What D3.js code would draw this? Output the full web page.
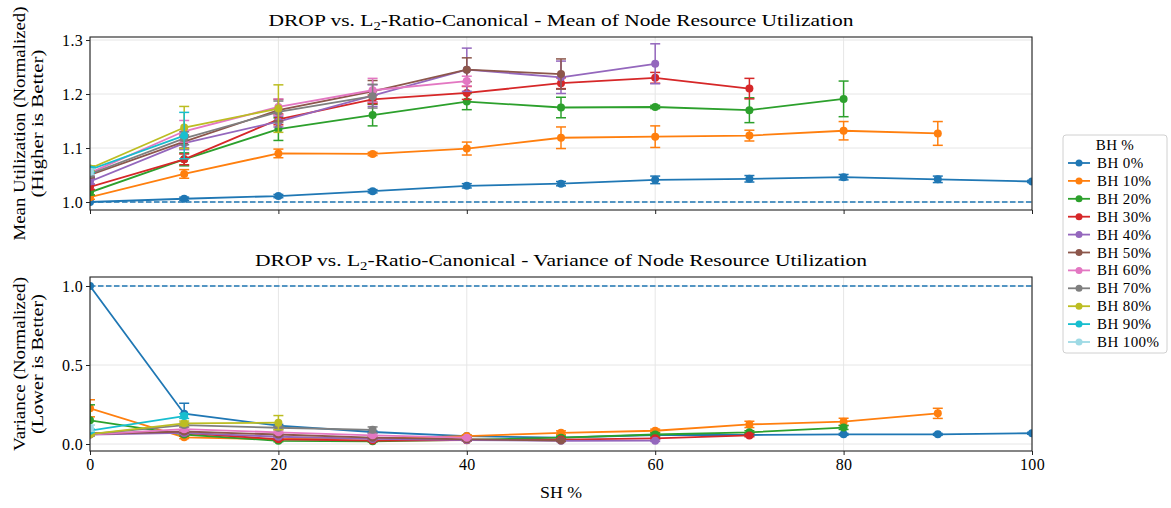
<!DOCTYPE html>
<html>
<head>
<meta charset="utf-8">
<script src="https://cdn.jsdelivr.net/npm/d3@7"></script>
<style>
  html, body { margin: 0; padding: 0; background: #fff; }
  svg { display: block; }
  text { font-family: "Liberation Serif", "DejaVu Serif", serif; fill: #000; }
</style>
</head>
<body>
<svg id="chart" width="1171" height="508"></svg>
<script>
// SH % on the x axis
const shLevels = [0, 10, 20, 30, 40, 50, 60, 70, 80, 90, 100];

// One series per BH share
const bhLabels = ["BH 0%", "BH 10%", "BH 20%", "BH 30%", "BH 40%", "BH 50%",
                  "BH 60%", "BH 70%", "BH 80%", "BH 90%", "BH 100%"];
const bhColors = ["#1f77b4", "#ff7f0e", "#2ca02c", "#d62728", "#9467bd", "#8c564b",
                  "#e377c2", "#7f7f7f", "#bcbd22", "#17becf", "#9edae5"];

// Mean of node resource utilization (normalized), one array per BH series
const meanValues = [
  [1.000, 1.006, 1.011, 1.020, 1.030, 1.034, 1.041, 1.043, 1.046, 1.042, 1.038],
  [1.009, 1.052, 1.090, 1.089, 1.099, 1.119, 1.121, 1.123, 1.132, 1.127],
  [1.018, 1.079, 1.135, 1.161, 1.186, 1.175, 1.176, 1.170, 1.191],
  [1.028, 1.079, 1.153, 1.190, 1.202, 1.220, 1.230, 1.210],
  [1.038, 1.109, 1.149, 1.197, 1.245, 1.231, 1.256],
  [1.050, 1.112, 1.170, 1.205, 1.245, 1.237],
  [1.054, 1.131, 1.176, 1.207, 1.224],
  [1.052, 1.118, 1.167, 1.196],
  [1.062, 1.138, 1.173],
  [1.060, 1.123],
  [1.056]
];
const meanErrors = [
  [0.000, 0.003, 0.003, 0.003, 0.004, 0.004, 0.007, 0.006, 0.005, 0.006, 0.002],
  [0.004, 0.008, 0.008, 0.003, 0.012, 0.020, 0.020, 0.010, 0.017, 0.022],
  [0.005, 0.012, 0.021, 0.020, 0.015, 0.019, 0.003, 0.023, 0.033],
  [0.005, 0.010, 0.010, 0.008, 0.012, 0.010, 0.010, 0.019],
  [0.005, 0.012, 0.010, 0.020, 0.040, 0.030, 0.037],
  [0.005, 0.012, 0.020, 0.020, 0.022, 0.028],
  [0.005, 0.020, 0.015, 0.022, 0.009],
  [0.005, 0.012, 0.020, 0.022],
  [0.005, 0.039, 0.044],
  [0.005, 0.043],
  [0.005]
];

// Variance of node resource utilization (normalized)
const varValues = [
  [1.000, 0.192, 0.116, 0.076, 0.050, 0.040, 0.057, 0.057, 0.061, 0.061, 0.068],
  [0.226, 0.042, 0.030, 0.036, 0.050, 0.071, 0.084, 0.124, 0.141, 0.194],
  [0.150, 0.060, 0.020, 0.017, 0.026, 0.040, 0.060, 0.074, 0.104],
  [0.068, 0.070, 0.030, 0.022, 0.024, 0.028, 0.036, 0.054],
  [0.060, 0.070, 0.046, 0.032, 0.025, 0.020, 0.021],
  [0.063, 0.079, 0.060, 0.040, 0.030, 0.022],
  [0.060, 0.094, 0.074, 0.055, 0.040],
  [0.062, 0.120, 0.103, 0.090],
  [0.062, 0.131, 0.135],
  [0.084, 0.177],
  [0.100]
];
const varErrors = [
  [0.000, 0.066, 0.008, 0.006, 0.005, 0.005, 0.005, 0.005, 0.006, 0.006, 0.006],
  [0.054, 0.008, 0.006, 0.006, 0.008, 0.012, 0.010, 0.020, 0.022, 0.032],
  [0.098, 0.010, 0.006, 0.005, 0.006, 0.010, 0.010, 0.010, 0.012],
  [0.010, 0.010, 0.006, 0.005, 0.005, 0.005, 0.006, 0.008],
  [0.008, 0.010, 0.006, 0.005, 0.005, 0.005, 0.005],
  [0.008, 0.010, 0.008, 0.006, 0.006, 0.005],
  [0.008, 0.012, 0.008, 0.008, 0.006],
  [0.008, 0.012, 0.010, 0.018],
  [0.008, 0.014, 0.045],
  [0.010, 0.015],
  [0.020]
];

const xTicks = [0, 20, 40, 60, 80, 100];
const meanTicks = [1.0, 1.1, 1.2, 1.3];
const varTicks = [0.0, 0.5, 1.0];

const svg = d3.select("#chart");
const left = 90, right = 1032;

const x = d3.scaleLinear().domain([0, 100]).range([left, right]);

// Stretch a text run to a given advance width (wide serif look)
function fitWidth(sel, width) {
  sel.attr("textLength", width).attr("lengthAdjust", "spacingAndGlyphs");
}

function drawPanel(cfg) {
  const y = d3.scaleLinear().domain(cfg.domain).range([cfg.bottom, cfg.top]);
  const g = svg.append("g");

  // grid
  g.append("g").selectAll("line.vg").data(xTicks).join("line")
    .attr("x1", d => x(d)).attr("x2", d => x(d))
    .attr("y1", cfg.top).attr("y2", cfg.bottom)
    .attr("stroke", "#e6e6e6").attr("stroke-width", 1);
  g.append("g").selectAll("line.hg").data(cfg.ticks).join("line")
    .attr("x1", left).attr("x2", right)
    .attr("y1", d => y(d)).attr("y2", d => y(d))
    .attr("stroke", "#e6e6e6").attr("stroke-width", 1);

  // baseline reference at 1.0
  g.append("line")
    .attr("x1", left).attr("x2", right)
    .attr("y1", y(1)).attr("y2", y(1))
    .attr("stroke", "#1f77b4").attr("stroke-width", 1.5)
    .attr("stroke-dasharray", "5.5,2.5");

  const clip = "clip-" + cfg.id;
  svg.append("clipPath").attr("id", clip).append("rect")
    .attr("x", left).attr("y", cfg.top).attr("width", right - left).attr("height", cfg.bottom - cfg.top);
  const plot = g.append("g").attr("clip-path", `url(#${clip})`);

  const line = d3.line().x(d => x(d.sh)).y(d => y(d.v));

  cfg.values.forEach((vals, i) => {
    const pts = vals.map((v, k) => ({ sh: shLevels[k], v, e: cfg.errors[i][k] }));
    const s = plot.append("g");
    const col = bhColors[i];
    // error bars
    const eb = s.selectAll("g.eb").data(pts.filter(p => p.e > 0)).join("g");
    eb.append("line")
      .attr("x1", p => x(p.sh)).attr("x2", p => x(p.sh))
      .attr("y1", p => y(p.v - p.e)).attr("y2", p => y(p.v + p.e))
      .attr("stroke", col).attr("stroke-width", 1.5);
    [-1, 1].forEach(sg => {
      eb.append("line")
        .attr("x1", p => x(p.sh) - 5).attr("x2", p => x(p.sh) + 5)
        .attr("y1", p => y(p.v + sg * p.e)).attr("y2", p => y(p.v + sg * p.e))
        .attr("stroke", col).attr("stroke-width", 1.5);
    });
    s.append("path").datum(pts)
      .attr("d", line).attr("fill", "none")
      .attr("stroke", col).attr("stroke-width", 1.8);
    s.selectAll("circle").data(pts).join("circle")
      .attr("cx", p => x(p.sh)).attr("cy", p => y(p.v)).attr("r", 4)
      .attr("fill", col);
  });

  // frame
  g.append("rect")
    .attr("x", left).attr("y", cfg.top)
    .attr("width", right - left).attr("height", cfg.bottom - cfg.top)
    .attr("fill", "none").attr("stroke", "#222").attr("stroke-width", 1.1);

  // axes ticks
  const yAxis = g.append("g").attr("transform", `translate(${left},0)`)
    .call(d3.axisLeft(y).tickValues(cfg.ticks).tickSize(4).tickPadding(3).tickFormat(d3.format(".1f")));
  yAxis.select(".domain").remove();
  yAxis.selectAll("text").attr("font-size", 16).attr("font-family", "Liberation Serif, serif")
    .attr("letter-spacing", 0.3);
  yAxis.selectAll("line").attr("stroke", "#222");

  const xAxis = g.append("g").attr("transform", `translate(0,${cfg.bottom})`)
    .call(d3.axisBottom(x).tickValues(xTicks).tickSize(4).tickPadding(4)
      .tickFormat(cfg.showX ? d3.format("d") : ""));
  xAxis.select(".domain").remove();
  xAxis.selectAll("text").attr("font-size", 16).attr("font-family", "Liberation Serif, serif")
    .attr("letter-spacing", 0.3);
  xAxis.selectAll("line").attr("stroke", "#222");

  // title: main run + subscript + rest, stretched to the panel's title width
  const t = svg.append("text")
    .attr("x", (left + right) / 2).attr("y", cfg.top - 11)
    .attr("text-anchor", "middle").attr("font-size", 17.5);
  const a = t.append("tspan").text("DROP vs. L");
  const b = t.append("tspan").attr("font-size", 12).attr("dy", 4).text("2");
  const c = t.append("tspan").attr("dy", -4).text("-Ratio-Canonical - " + cfg.title);
  const la = a.node().getComputedTextLength();
  const lb = b.node().getComputedTextLength();
  const lc = c.node().getComputedTextLength();
  const k = cfg.titleWidth / (la + lb + lc);
  fitWidth(a, la * k); fitWidth(b, lb * k); fitWidth(c, lc * k);

  // y label (two lines)
  const cy = (cfg.top + cfg.bottom) / 2;
  cfg.ylabel.forEach((txt, i) => {
    const lab = svg.append("text")
      .attr("transform", `translate(${25 + i * 18},${cy}) rotate(-90)`)
      .attr("text-anchor", "middle").attr("font-size", 16.5)
      .text(txt);
    fitWidth(lab, cfg.ylabelWidth[i]);
  });
}

drawPanel({
  id: "mean", top: 37, bottom: 210, domain: [0.9852, 1.3056], ticks: meanTicks,
  values: meanValues, errors: meanErrors, showX: false,
  title: "Mean of Node Resource Utilization", titleWidth: 585,
  ylabel: ["Mean Utilization (Normalized)", "(Higher is Better)"], ylabelWidth: [234, 148]
});

drawPanel({
  id: "var", top: 277, bottom: 451, domain: [-0.0443, 1.0570], ticks: varTicks,
  values: varValues, errors: varErrors, showX: true,
  title: "Variance of Node Resource Utilization", titleWidth: 612,
  ylabel: ["Variance (Normalized)", "(Lower is Better)"], ylabelWidth: [174, 140]
});

// x label
const xl = svg.append("text").attr("x", (left + right) / 2).attr("y", 498)
  .attr("text-anchor", "middle").attr("font-size", 16).text("SH %");
fitWidth(xl, 42);

// legend
const lg = svg.append("g").attr("transform", "translate(1063,135)");
lg.append("rect").attr("width", 104).attr("height", 218).attr("rx", 3)
  .attr("fill", "#fff").attr("stroke", "#d0d0d0").attr("stroke-width", 1);
lg.append("text").attr("x", 52).attr("y", 15).attr("text-anchor", "middle")
  .attr("font-size", 15).attr("letter-spacing", 0.3).text("BH %");
const items = lg.selectAll("g.item").data(bhLabels).join("g")
  .attr("transform", (d, i) => `translate(0,${28 + i * 17.9})`);
items.append("line").attr("x1", 5).attr("x2", 27).attr("y1", 0).attr("y2", 0)
  .attr("stroke", (d, i) => bhColors[i]).attr("stroke-width", 1.8);
items.append("circle").attr("cx", 16).attr("cy", 0).attr("r", 3.5)
  .attr("fill", (d, i) => bhColors[i]);
items.append("text").attr("x", 34).attr("y", 5).attr("font-size", 15).attr("letter-spacing", 0.4)
  .text(d => d);
</script>
</body>
</html>
